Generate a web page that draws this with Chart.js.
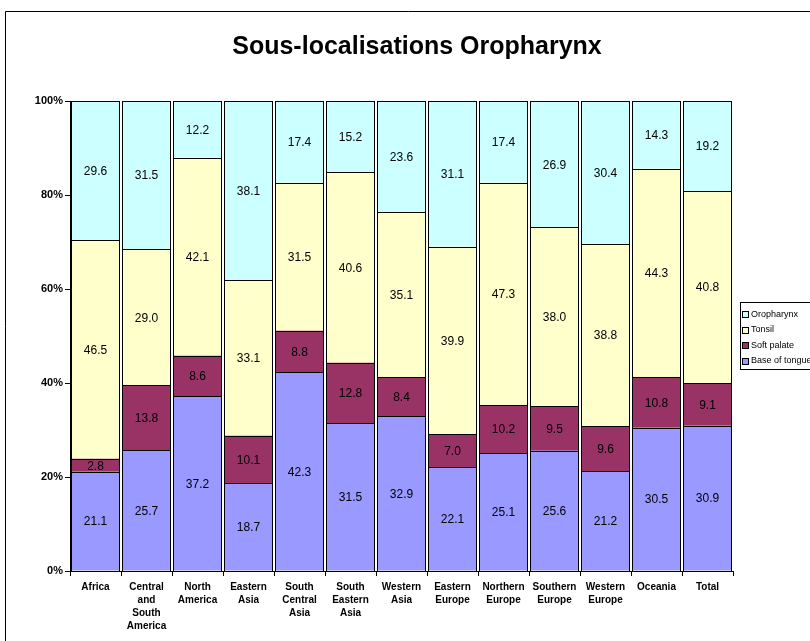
<!DOCTYPE html>
<html><head><meta charset="utf-8">
<script src="https://cdn.jsdelivr.net/npm/chart.js@4"></script>
<style>html,body{margin:0;padding:0;background:#fff;overflow:hidden}#wrap{width:810px;height:641px;position:relative}</style>
</head><body><div id="wrap"><canvas id="c" width="810" height="641"></canvas></div>
<script>
const categories = [['Africa'],['Central','and','South','America'],['North','America'],['Eastern','Asia'],['South','Central','Asia'],['South','Eastern','Asia'],['Western','Asia'],['Eastern','Europe'],['Northern','Europe'],['Southern','Europe'],['Western','Europe'],['Oceania'],['Total']];
const baseOfTongue = [21.1,25.7,37.2,18.7,42.3,31.5,32.9,22.1,25.1,25.6,21.2,30.5,30.9];
const softPalate  = [2.8,13.8,8.6,10.1,8.8,12.8,8.4,7.0,10.2,9.5,9.6,10.8,9.1];
const tonsil      = [46.5,29.0,42.1,33.1,31.5,40.6,35.1,39.9,47.3,38.0,38.8,44.3,40.8];
const oropharynx  = [29.6,31.5,12.2,38.1,17.4,15.2,23.6,31.1,17.4,26.9,30.4,14.3,19.2];
const seriesNames = ['Base of tongue','Soft palate','Tonsil','Oropharynx'];
const yTicks = [0,20,40,60,80,100];
const title = 'Sous-localisations Oropharynx';

const colors = ['#9999FF','#993366','#FFFFCC','#CCFFFF'];
const seriesData = [baseOfTongue, softPalate, tonsil, oropharynx];
const FONT = 'Arial, "Liberation Sans", sans-serif';

const deco = {
  id:'deco',
  beforeDraw(chart){
    const ctx = chart.ctx;
    ctx.save();
    ctx.fillStyle='#fff'; ctx.fillRect(0,0,chart.width,chart.height);
    ctx.strokeStyle='#000'; ctx.lineWidth=1;
    ctx.beginPath(); ctx.moveTo(5.5,chart.height+2); ctx.lineTo(5.5,11.5); ctx.lineTo(chart.width+2,11.5); ctx.stroke();
    ctx.fillStyle='#000'; ctx.font='bold 25px '+FONT;
    ctx.textAlign='center'; ctx.textBaseline='middle';
    ctx.fillText(title, 417, 47);
    ctx.restore();
  },
  afterDatasetsDraw(chart){
    const ctx = chart.ctx;
    ctx.save();
    ctx.strokeStyle='#000'; ctx.lineWidth=1;
    chart.data.datasets.forEach((ds,i)=>{
      const meta = chart.getDatasetMeta(i);
      meta.data.forEach((el)=>{
        const L=Math.round(el.x-el.width/2), R=Math.round(el.x+el.width/2);
        const T=Math.round(Math.min(el.y,el.base)), B=Math.round(Math.max(el.y,el.base));
        ctx.strokeRect(L+0.5,T+0.5,R-L-1,B-T);
      });
    });
    ctx.font='12px '+FONT;
    ctx.fillStyle='#000'; ctx.textAlign='center'; ctx.textBaseline='middle';
    chart.data.datasets.forEach((ds,i)=>{
      const meta = chart.getDatasetMeta(i);
      meta.data.forEach((el,j)=>{
        ctx.fillText(ds.data[j].toFixed(1), el.x, (el.y+el.base)/2+1);
      });
    });
    // legend
    const lx=733, ly=302;
    ctx.strokeRect(lx+7.5, ly+0.5, 90, 67);
    ctx.font='9px '+FONT;
    ctx.textAlign='left';
    const order=[3,2,1,0];
    order.forEach((k,idx)=>{
      const y = ly+12+idx*15.5;
      ctx.fillStyle=colors[k]; ctx.fillRect(lx+9.5,Math.round(y-3)+0.5,6,6);
      ctx.strokeRect(lx+9.5,Math.round(y-3)+0.5,6,6);
      ctx.fillStyle='#000'; ctx.fillText(seriesNames[k], lx+18, y+0.5);
    });
    ctx.restore();
  }
};

new Chart(document.getElementById('c'),{
  type:'bar',
  data:{
    labels:categories,
    datasets:seriesData.map((d,i)=>({label:seriesNames[i],data:d,backgroundColor:colors[i],borderWidth:0,barPercentage:49/51,categoryPercentage:1}))
  },
  options:{
    responsive:false, animation:false,
    layout:{padding:{left:0,top:101,right:77,bottom:0}},
    plugins:{legend:{display:false},title:{display:false},tooltip:{enabled:false}},
    scales:{
      x:{stacked:true,
        afterFit(s){s.height=70;},
        grid:{display:true,drawOnChartArea:false,offset:true,tickLength:5,color:'#000'},
        border:{color:'#000',width:1},
        ticks:{color:'#000',font:{family:FONT,size:10,weight:'bold',lineHeight:1.3},maxRotation:0,autoSkip:false,padding:5}
      },
      y:{stacked:true,min:0,max:100,
        afterFit(s){s.width=70;},
        afterBuildTicks(s){s.ticks=yTicks.map(v=>({value:v}));},
        grid:{display:true,drawOnChartArea:false,tickLength:5,color:'#000'},
        border:{color:'#000',width:1},
        ticks:{color:'#000',font:{family:FONT,size:11,weight:'bold'},padding:2,callback:v=>v+'%'}
      }
    }
  },
  plugins:[deco]
});
</script></body></html>
